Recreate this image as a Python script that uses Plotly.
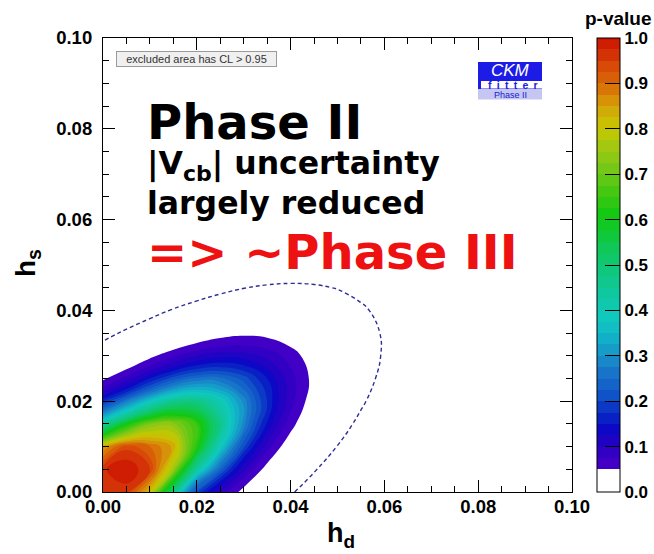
import numpy as np
import plotly.graph_objects as go

# grid of h_d (x) and h_s (y) values
h_d = [0.000, 0.005, 0.010, 0.015, 0.020, 0.025, 0.030, 0.035, 0.040, 0.045, 0.050, 0.055, 0.060, 0.065, 0.070]
h_s = [0.000, 0.005, 0.010, 0.015, 0.020, 0.025, 0.030, 0.035, 0.040, 0.045, 0.050, 0.055]

# Delta chi2, one row per h_s value
chi2_rows = [
    [0.10, 0.08, 0.40, 1.40, 3.20, 4.60, 6.40, 8.67, 11.31, 14.31, 17.67, 21.38, 25.46, 29.90, 34.69],
    [0.06, 0.00, 0.10, 0.55, 1.60, 2.84, 4.45, 6.42, 8.75, 11.43, 14.48, 17.88, 21.65, 25.77, 30.26],
    [0.33, 0.12, 0.21, 0.34, 0.92, 1.85, 3.15, 4.80, 6.82, 9.19, 11.93, 15.02, 18.48, 22.29, 26.46],
    [1.60, 1.00, 0.65, 0.61, 0.87, 1.50, 2.48, 3.83, 5.53, 7.60, 10.02, 12.80, 15.94, 19.44, 23.30],
    [3.50, 2.60, 1.92, 1.52, 1.47, 1.79, 2.46, 3.49, 4.88, 6.64, 8.75, 11.22, 14.05, 17.24, 20.79],
    [6.20, 4.86, 3.78, 3.07, 2.71, 2.71, 3.07, 3.79, 4.87, 6.31, 8.11, 10.27, 12.79, 15.67, 18.91],
    [9.41, 7.67, 6.28, 5.25, 4.58, 4.27, 4.32, 4.73, 5.50, 6.63, 8.12, 9.97, 12.18, 14.74, 17.67],
    [13.18, 11.12, 9.42, 8.08, 7.10, 6.48, 6.22, 6.31, 6.77, 7.59, 8.77, 10.30, 12.20, 14.45, 17.07],
    [17.57, 15.20, 13.19, 11.54, 10.25, 9.32, 8.75, 8.53, 8.68, 9.19, 10.05, 11.27, 12.86, 14.80, 17.11],
    [22.61, 19.93, 17.61, 15.65, 14.04, 12.80, 11.92, 11.39, 11.23, 11.42, 11.97, 12.89, 14.16, 15.79, 17.78],
    [28.29, 25.30, 22.66, 20.39, 18.48, 16.92, 15.72, 14.89, 14.41, 14.29, 14.54, 15.14, 16.10, 17.42, 19.10],
    [34.61, 31.30, 28.36, 25.77, 23.55, 21.68, 20.17, 19.02, 18.24, 17.81, 17.74, 18.03, 18.68, 19.69, 21.05],
]

excl_cl = 0.95          # fill shown where p-value > 1 - CL
dashed_p = 0.0027       # dashed contour (3 sigma)
band_size = 0.025       # p-value step of the colour bands

x_ticks = [0.00, 0.02, 0.04, 0.06, 0.08, 0.10]
y_ticks = [0.00, 0.02, 0.04, 0.06, 0.08, 0.10]
cbar_ticks = [0.0, 0.1, 0.2, 0.3, 0.4, 0.5, 0.6, 0.7, 0.8, 0.9, 1.0]

chi2 = np.array(chi2_rows)
pval = np.exp(-chi2 / 2.0)  # 2-dof p-value

p_min = 1 - excl_cl
rainbow = [
    [p_min, "#4a00c8"], [0.10, "#2a00c2"], [0.14, "#0a08c6"], [0.17, "#0828c4"],
    [0.21, "#1050c8"], [0.26, "#1872c8"], [0.30, "#1892c8"], [0.34, "#10b2c8"],
    [0.38, "#10c8c0"], [0.43, "#10c8a4"], [0.48, "#10c882"], [0.53, "#10c860"],
    [0.57, "#10c834"], [0.61, "#12c812"], [0.66, "#44c812"], [0.71, "#74c818"],
    [0.76, "#a2c810"], [0.80, "#c8c800"], [0.84, "#d2aa08"], [0.87, "#d88a08"],
    [0.90, "#d86a08"], [0.94, "#d84808"], [0.97, "#d22a06"], [1.0, "#cc1400"],
]
colorscale_p = [[0.0, "#ffffff"], [p_min - 1e-4, "#ffffff"]] + rainbow


def rainbow_at(p):
    pos = [s[0] for s in rainbow]
    rgb = np.array([[int(c[i:i + 2], 16) for i in (1, 3, 5)] for _, c in rainbow], dtype=float)
    vals = [np.interp(p, pos, rgb[:, k]) for k in range(3)]
    return "rgb(%d,%d,%d)" % tuple(int(round(v)) for v in vals)


BOLD = "Liberation Sans"
fig = go.Figure()
# p-value contour that carries the colour bar (drawn invisible; bands below are drawn from chi2)
fig.add_trace(go.Contour(
    x=h_d, y=h_s, z=pval, opacity=0,
    zmin=0, zmax=1, autocontour=False,
    contours=dict(start=0, end=1, size=band_size, coloring="fill", showlines=False),
    line=dict(width=0),
    colorscale=colorscale_p,
    colorbar=dict(
        x=(597 - 103) / 469, xanchor="left", y=0.5, yanchor="middle",
        len=1, lenmode="fraction", thickness=23, xpad=0, ypad=0,
        outlinecolor="black", outlinewidth=1,
        tickvals=cbar_ticks, tickformat=".1f",
        ticks="inside", ticklen=15, tickcolor="black", tickwidth=1,
        tickfont=dict(family=BOLD, size=17, color="black", weight="bold"),
    ),
    hoverinfo="skip",
))

# filled p-value bands: region with p > level, outermost first
levels = np.arange(p_min, 1.0 - 1e-9, band_size)
neg_chi2 = -chi2
for lv in levels:
    col = rainbow_at(lv + band_size / 2)
    thr = 2 * np.log(lv)  # -chi2 threshold
    fig.add_trace(go.Contour(
        x=h_d, y=h_s, z=neg_chi2, autocontour=False,
        contours=dict(start=thr, end=thr, size=1, coloring="fill", showlines=False),
        colorscale=[[0, "rgba(255,255,255,0)"], [0.5, "rgba(255,255,255,0)"], [0.5, col], [1, col]],
        line=dict(width=0, smoothing=1.3), showscale=False, hoverinfo="skip",
    ))

fig.add_trace(go.Contour(
    x=h_d, y=h_s, z=chi2, autocontour=False,
    contours=dict(start=-2 * np.log(dashed_p), end=-2 * np.log(dashed_p), size=1, coloring="none"),
    line=dict(color="#2e2e96", width=1.4, dash="4px,3px", smoothing=1.3),
    showscale=False, hoverinfo="skip",
))

axis_common = dict(
    range=[0, 0.1], tickformat=".2f", ticks="inside", ticklen=12, tickwidth=1, tickcolor="black",
    minor=dict(ticks="inside", ticklen=6, dtick=0.005, tickcolor="black", tickwidth=1),
    showline=True, linecolor="black", linewidth=1.2, mirror="ticks", showgrid=False, zeroline=False,
    tickfont=dict(family=BOLD, size=18.5, color="black", weight="bold"),
)
fig.update_xaxes(tickvals=x_ticks, ticklabelstandoff=-2, **axis_common)
fig.update_yaxes(tickvals=y_ticks, ticklabelstandoff=6, **axis_common)


def px_x(px):
    return (px - 103) / 469


def px_y(py):
    return (492 - py) / 454


P = dict(xref="paper", yref="paper", showarrow=False, yanchor="middle")
ann = []
ann.append(dict(x=px_x(341), y=px_y(535), xanchor="center", text="h<sub>d</sub>",
                font=dict(family=BOLD, size=27, color="black", weight="bold"), **P))
ann.append(dict(x=px_x(27), y=px_y(263), xanchor="center", text="h<sub>s</sub>", textangle=-90,
                font=dict(family=BOLD, size=28, color="black", weight="bold"), **P))
ann.append(dict(x=px_x(618), y=px_y(18), xanchor="center", text="p-value",
                font=dict(family=BOLD, size=19, color="black", weight="bold"), **P))
ann.append(dict(x=px_x(116), y=px_y(59), xanchor="left", text="excluded area has CL > 0.95",
                bgcolor="#f0f0f0", bordercolor="#9a9a9a", borderwidth=1,
                borderpad=1, width=157, align="center",
                font=dict(family=BOLD, size=11, color="#333333"), **P))
DJ = "DejaVu Sans"
ann.append(dict(x=px_x(145), y=px_y(121.5), xanchor="left", text="Phase II",
                font=dict(family=DJ, size=48, color="black", weight="bold"), **P))
ann.append(dict(x=px_x(146), y=px_y(165.5), xanchor="left", text="|V<sub>cb</sub>| uncertainty",
                borderpad=0, font=dict(family=DJ, size=31.5, color="black", weight="bold"), **P))
ann.append(dict(x=px_x(146), y=px_y(203), xanchor="left", text="largely reduced",
                borderpad=0, font=dict(family=DJ, size=31.5, color="black", weight="bold"), **P))
ann.append(dict(x=px_x(145), y=px_y(251.5), xanchor="left", text="=> ~Phase III",
                font=dict(family=DJ, size=48, color="#ee1111", weight="bold"), **P))
# CKMfitter logo
ann.append(dict(x=px_x(510), y=px_y(70), xanchor="center", text="<i>CKM</i>", borderpad=0,
                font=dict(family=BOLD, size=17, color="white"), **P))
ann.append(dict(x=px_x(513), y=px_y(85), xanchor="center", text="f\u2002i\u2002t\u2002t\u2002e\u2002r",
                borderpad=0, font=dict(family=BOLD, size=10.5, color="#1c1ce0", weight="bold"), **P))
ann.append(dict(x=px_x(510), y=px_y(95), xanchor="center", text="Phase II", borderpad=0,
                font=dict(family=BOLD, size=9, color="#2020d0"), **P))

shapes = [
    dict(type="rect", xref="paper", yref="paper", x0=px_x(478), x1=px_x(542), y0=px_y(89), y1=px_y(62),
         fillcolor="#1c1ce6", line=dict(width=0), layer="above"),
    dict(type="rect", xref="paper", yref="paper", x0=px_x(481), x1=px_x(542), y0=px_y(88.5), y1=px_y(81),
         fillcolor="white", line=dict(width=0), layer="above"),
    dict(type="rect", xref="paper", yref="paper", x0=px_x(478), x1=px_x(542), y0=px_y(99.5), y1=px_y(89),
         fillcolor="#c6c6f2", line=dict(width=0), layer="above"),
]

fig.update_layout(
    width=654, height=554, margin=dict(l=103, r=82, t=38, b=62, autoexpand=False),
    paper_bgcolor="white", plot_bgcolor="white",
    annotations=ann, shapes=shapes, showlegend=False,
)
fig.write_html("out.html")
